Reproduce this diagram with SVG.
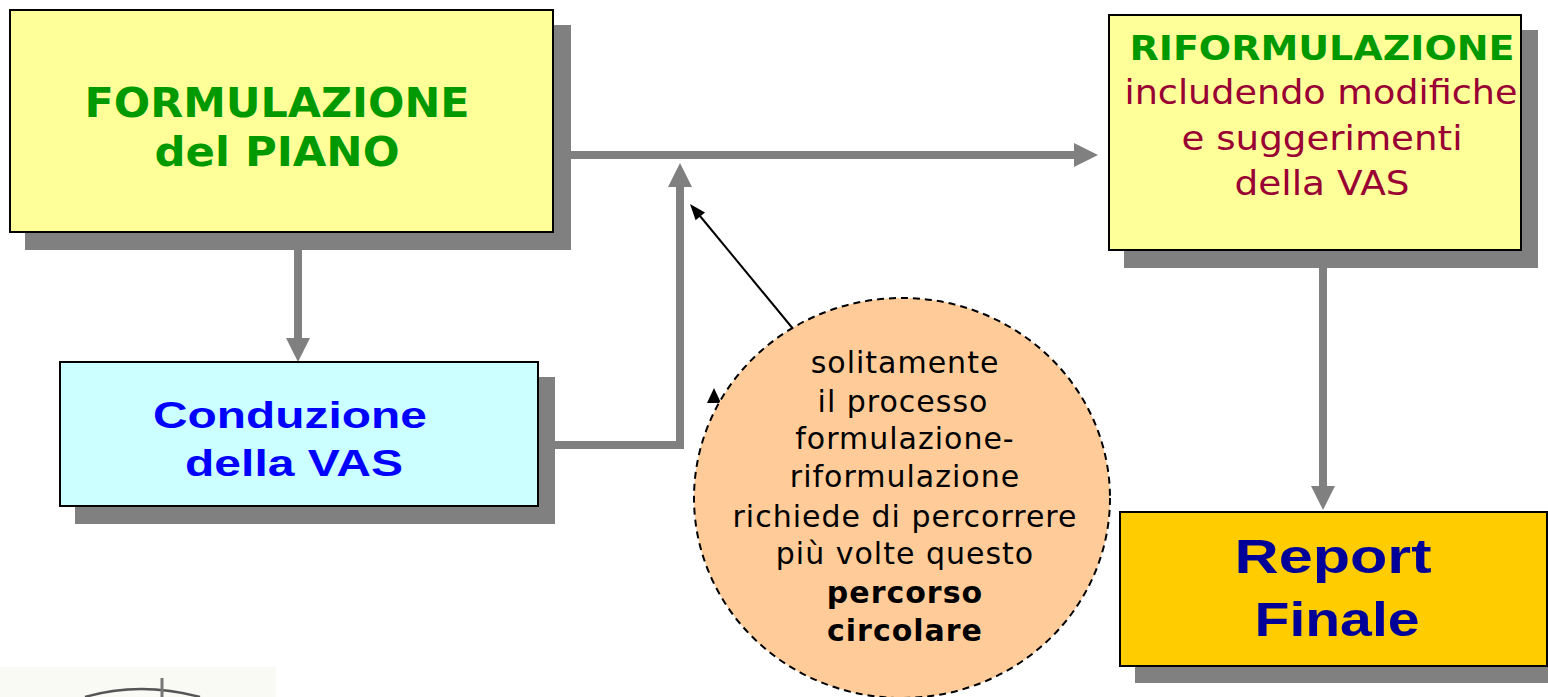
<svg xmlns="http://www.w3.org/2000/svg" width="1548" height="697" viewBox="0 0 1548 697">
<style>
.shadow{fill:#808080}
.box{stroke:#000;stroke-width:2}
.conn{fill:none;stroke:#808080;stroke-width:8}
.t{font-family:"DejaVu Sans","Liberation Sans",sans-serif;text-anchor:middle}
.a{font-family:"Liberation Sans",Arial,sans-serif;font-weight:bold;text-anchor:middle}
.c{font-family:"DejaVu Sans","Liberation Sans",sans-serif;text-anchor:middle;font-size:30px;letter-spacing:1px;fill:#000}
</style>
<defs>
<marker id="ga" viewBox="0 0 10 10" refX="0" refY="5" markerWidth="3" markerHeight="3" orient="auto" markerUnits="strokeWidth">
<path d="M0,0 L10,5 L0,10 z" fill="#808080"/>
</marker>
</defs>
<rect width="1548" height="697" fill="#fff"/>
<g id="logo">
<rect x="0" y="667" width="276" height="30" fill="#fafaf4"/>
<path d="M85,697 Q140,681 200,697" fill="none" stroke="#555" stroke-width="2.5"/>
<line x1="162" y1="678" x2="162" y2="697" stroke="#777" stroke-width="3"/>
</g>
<g id="connectors">
<line class="conn" x1="298" y1="233" x2="298" y2="338" marker-end="url(#ga)"/>
<polyline class="conn" points="555,445 680,445 680,187" marker-end="url(#ga)"/>
<line class="conn" x1="570" y1="155" x2="1074" y2="155" marker-end="url(#ga)"/>
<line class="conn" x1="1323" y1="250" x2="1323" y2="486" marker-end="url(#ga)"/>
<line x1="794" y1="330" x2="700" y2="216" stroke="#000" stroke-width="2"/>
<polygon points="690,204 705,212.6 695.6,220.2" fill="#000"/>
<path d="M707,403 L714,388 L721,403 z" fill="#000"/>
</g>
<g id="formulazione">
<rect class="shadow" x="25" y="25" width="546" height="225"/>
<rect class="box" x="10" y="10" width="543" height="222" fill="#ffff99"/>
<text class="t" x="277" y="117" font-size="41" font-weight="bold" fill="#009900" textLength="385" lengthAdjust="spacingAndGlyphs">FORMULAZIONE</text>
<text class="t" x="277" y="166" font-size="41" font-weight="bold" fill="#009900" textLength="245" lengthAdjust="spacingAndGlyphs">del PIANO</text>
</g>
<g id="conduzione">
<rect class="shadow" x="75" y="377" width="480" height="147"/>
<rect class="box" x="60" y="362" width="478" height="144" fill="#ccffff"/>
<text class="a" x="290" y="428" font-size="37" fill="#0000ff" textLength="274" lengthAdjust="spacingAndGlyphs">Conduzione</text>
<text class="a" x="294" y="476" font-size="37" fill="#0000ff" textLength="218" lengthAdjust="spacingAndGlyphs">della VAS</text>
</g>
<g id="riformulazione">
<rect class="shadow" x="1124" y="30" width="414" height="238"/>
<rect class="box" x="1109" y="15" width="412" height="235" fill="#ffff99"/>
<text class="t" x="1322" y="60" font-size="33" font-weight="bold" fill="#009900" textLength="385" lengthAdjust="spacingAndGlyphs">RIFORMULAZIONE</text>
<text class="t" x="1321" y="104" font-size="34" fill="#990033" textLength="393" lengthAdjust="spacingAndGlyphs">includendo modifiche</text>
<text class="t" x="1322" y="150" font-size="34" fill="#990033" textLength="281" lengthAdjust="spacingAndGlyphs">e suggerimenti</text>
<text class="t" x="1322" y="195" font-size="34" fill="#990033" textLength="175" lengthAdjust="spacingAndGlyphs">della VAS</text>
</g>
<g id="report">
<rect class="shadow" x="1135" y="527" width="413" height="156"/>
<rect class="box" x="1120" y="512" width="427" height="154" fill="#ffcc00"/>
<text class="a" x="1333" y="573" font-size="49" fill="#000099" textLength="197" lengthAdjust="spacingAndGlyphs">Report</text>
<text class="a" x="1337" y="636" font-size="49" fill="#000099" textLength="165" lengthAdjust="spacingAndGlyphs">Finale</text>
</g>
<g id="nota">
<ellipse cx="902" cy="498" rx="208" ry="200" fill="#ffcc99" stroke="#000" stroke-width="2" stroke-dasharray="7,5"/>
<text class="c" x="905" y="373">solitamente</text>
<text class="c" x="903" y="412">il processo</text>
<text class="c" x="905" y="449">formulazione-</text>
<text class="c" x="905" y="487">riformulazione</text>
<text class="c" x="905" y="527">richiede di percorrere</text>
<text class="c" x="905" y="564">più volte questo</text>
<text class="c" x="905" y="603" font-weight="bold">percorso</text>
<text class="c" x="905" y="641" font-weight="bold">circolare</text>
</g>
</svg>
